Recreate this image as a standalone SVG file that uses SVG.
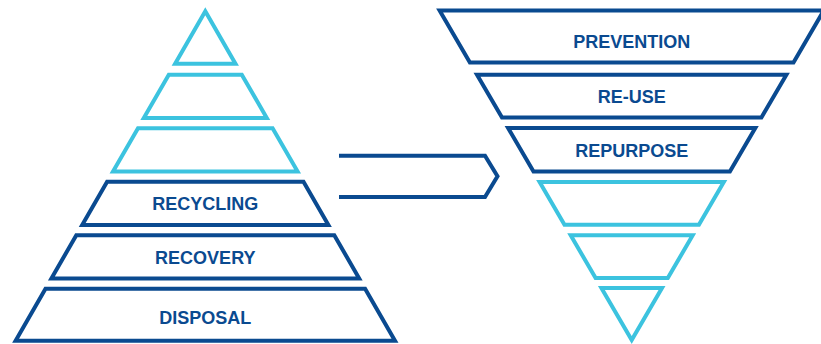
<svg xmlns="http://www.w3.org/2000/svg" width="821" height="344" viewBox="0 0 821 344">
<style>
.dark{fill:none;stroke:#0A4A90;stroke-width:4;stroke-linejoin:miter;stroke-miterlimit:10}
.light{fill:none;stroke:#3CC3DF;stroke-width:4;stroke-linejoin:miter;stroke-miterlimit:10}
.lbl{font-family:"Liberation Sans",Arial,sans-serif;font-weight:bold;font-size:18px;fill:#0A4A90;text-anchor:middle}
</style>
<rect width="821" height="344" fill="#ffffff"/>
<g id="left-pyramid">
  <g id="l-tier1"><polygon class="light" points="205.3,11.3 235.5,63.7 175.1,63.7"/></g>
  <g id="l-tier2"><polygon class="light" points="168.8,74.7 241.8,74.7 266.8,118 143.8,118"/></g>
  <g id="l-tier3"><polygon class="light" points="138,128.2 272.6,128.2 297.6,171.5 113,171.5"/></g>
  <g id="recycling"><polygon class="dark" points="107.1,181.7 303.5,181.7 328.4,225 82.2,225"/><text class="lbl" x="205.3" y="210">RECYCLING</text></g>
  <g id="recovery"><polygon class="dark" points="76.3,235.2 334.3,235.2 359.2,278.5 51.4,278.5"/><text class="lbl" x="205.3" y="264">RECOVERY</text></g>
  <g id="disposal"><polygon class="dark" points="45.5,288.7 365.1,288.7 395,340.7 15.6,340.7"/><text class="lbl" x="205.3" y="323.5">DISPOSAL</text></g>
</g>
<g id="right-pyramid">
  <g id="prevention"><polygon class="dark" points="439.6,10.5 823.8,10.5 793.5,62.5 469.9,62.5"/><text class="lbl" x="631.7" y="48">PREVENTION</text></g>
  <g id="re-use"><polygon class="dark" points="477,74.7 786.4,74.7 761.4,117.5 502,117.5"/><text class="lbl" x="631.7" y="102.5">RE-USE</text></g>
  <g id="repurpose"><polygon class="dark" points="508.1,128 755.3,128 729.9,171.5 533.5,171.5"/><text class="lbl" x="631.7" y="157">REPURPOSE</text></g>
  <g id="r-tier4"><polygon class="light" points="539.6,182 723.8,182 698.9,224.7 564.5,224.7"/></g>
  <g id="r-tier5"><polygon class="light" points="570.7,235.3 692.7,235.3 667.8,278 595.6,278"/></g>
  <g id="r-tier6"><polygon class="light" points="601.4,288 662,288 631.7,340"/></g>
</g>
<g id="connectors">
  <polyline class="dark" points="339,155.7 485,155.7 497.5,176.3 485,197 339,197"/>
</g>
</svg>
